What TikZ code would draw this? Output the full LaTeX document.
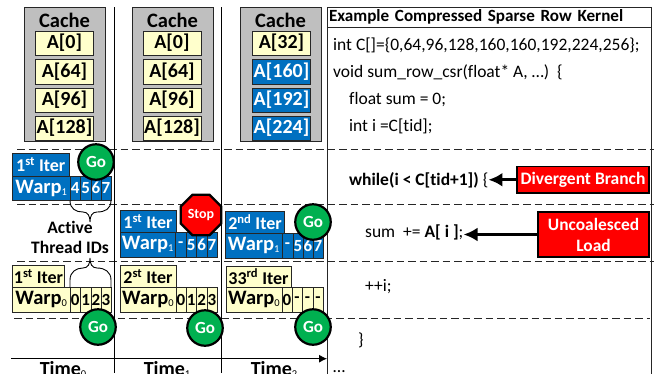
\documentclass[tikz,border=0pt]{standalone}
\usepackage{fontspec}
\setmainfont[Ligatures=NoCommon]{Carlito}
\usetikzlibrary{shapes.geometric,arrows.meta,calc}
\definecolor{cyel}{HTML}{FFFFCC}
\definecolor{cblu}{HTML}{0070C0}
\definecolor{cgra}{HTML}{BFBFBF}
\definecolor{cgre}{HTML}{00B050}
\definecolor{cred}{HTML}{FF0000}
\definecolor{cdrk}{HTML}{262626}
\tikzset{
  boxbase/.style={draw=cdrk,line width=1pt,inner sep=0pt,outer sep=0pt,anchor=north west,font=\bfseries},
  cachebox/.style={boxbase,fill=cgra,text=black},
  yel/.style={boxbase,fill=cyel,text=black},
  blu/.style={boxbase,fill=cblu,text=white},
  redbox/.style={boxbase,fill=cred,text=white,draw=black,line width=1.2pt,align=center},
  gosign/.style={circle,draw=black,line width=2.2pt,fill=cgre,text=white,minimum size=35.5pt,inner sep=0pt,font=\fontsize{17}{17}\selectfont\bfseries},
  stopsign/.style={regular polygon,regular polygon sides=8,draw=black,line width=2.2pt,fill=cred,text=white,minimum size=44pt,inner sep=0pt,font=\fontsize{14}{14}\selectfont\bfseries},
  rowdash/.style={draw=cdrk,line width=0.9pt,dash pattern=on 7.5pt off 4pt},
  vline/.style={draw=black,line width=0.9pt},
  brc/.style={draw=black,line width=0.9pt},
  codeline/.style={inner sep=0pt,anchor=base west,font=\fontsize{17.5}{17}\selectfont},
  boldlabel/.style={inner sep=0pt,font=\fontsize{17.5}{18}\selectfont\bfseries,align=center},
  callarrow/.style={-{Latex[length=14pt,width=14pt]},line width=3pt,black}
}
\newcommand{\bx}[7]{\node[#2,minimum width=#5pt-#3pt,minimum height=#6pt-#4pt] (#1) at (#3,#4) {#7};}
\newcommand{\fA}{\fontsize{20}{20}\selectfont}
\newcommand{\fI}{\fontsize{18}{18}\selectfont}
\newcommand{\fW}{\fontsize{20.5}{20}\selectfont}
\newcommand{\fD}{\fontsize{17}{17}\selectfont}
\newcommand{\wsub}[1]{\raisebox{-2pt}{\fontsize{10.5}{10}\selectfont\mdseries #1}}
\begin{document}
\begin{tikzpicture}[x=1pt,y=-1pt]
\useasboundingbox (0,0) rectangle (654,373);
% code frame
\node[draw=cdrk,line width=0.9pt,inner sep=0pt,outer sep=0pt,anchor=north west,minimum width=324pt,minimum height=20pt,text width=322pt,font=\fontsize{17.1}{17}\selectfont\bfseries,align=left] (hdr) at (327,7) {\hspace{1pt}Example Compressed Sparse Row Kernel};
\coordinate (framebl) at (327,380);
\coordinate (framebr) at (651,380);
\draw[draw=cdrk,line width=0.9pt] (hdr.south west) -- (framebl) (hdr.south east) -- (framebr);
% dashed rows
\coordinate (d1a) at (17,149); \coordinate (d1b) at (654,149);
\coordinate (d2a) at (17,204); \coordinate (d2b) at (654,204);
\coordinate (d3a) at (17,261); \coordinate (d3b) at (654,261);
\coordinate (d4a) at (14,318); \coordinate (d4b) at (650,318);
\draw[rowdash] (d1a) -- (d1b);
\draw[rowdash] (d2a) -- (d2b);
\draw[rowdash] (d3a) -- (d3b);
\draw[rowdash] (d4a) -- (d4b);
% verticals
\coordinate (v1a) at (114,7); \coordinate (v1b) at (114,373);
\coordinate (v2a) at (221.5,7); \coordinate (v2b) at (221.5,373);
\draw[vline] (v1a) -- (v1b);
\draw[vline] (v2a) -- (v2b);
% axis
\coordinate (ax0) at (11,358.7); \coordinate (ax1) at (327,358.7);
\draw[line width=0.9pt,-{Latex[length=8pt,width=8pt]}] (ax0) -- (ax1);
% caches
\foreach \n/\x in {a/24,b/132,c/240}{
  \node[cachebox,minimum width=81pt,minimum height=134pt] (cache\n) at (\x,7) {};
  \node[font=\fontsize{20.5}{20}\selectfont\bfseries,inner sep=0pt,anchor=base] (cachet\n) at (\x+40.5,27) {Cache};
}
\bx{a1}{yel}{35.5}{31}{93.5}{55}{\fA A[0]}
\bx{a2}{yel}{35.5}{59.5}{93.5}{84}{\fA A[64]}
\bx{a3}{yel}{35.5}{88}{93.5}{112}{\fA A[96]}
\bx{a4}{yel}{35.5}{116}{93.5}{140}{\fA A[128]}
\bx{b1}{yel}{143}{31}{201}{55}{\fA A[0]}
\bx{b2}{yel}{143}{59.5}{201}{84}{\fA A[64]}
\bx{b3}{yel}{143}{88}{201}{112}{\fA A[96]}
\bx{b4}{yel}{143}{116}{201}{140}{\fA A[128]}
\bx{c1}{yel}{252.5}{31}{310.5}{55}{\fA A[32]}
\bx{c2}{blu}{252.5}{59.5}{310.5}{84}{\fA A[160]}
\bx{c3}{blu}{252.5}{88}{310.5}{112}{\fA A[192]}
\bx{c4}{blu}{252.5}{116}{310.5}{140}{\fA A[224]}
% time 0 blue
\bx{t0bi}{blu}{12.5}{153}{69}{176}{\fI 1\textsuperscript{st} Iter}
\bx{t0bw}{blu}{12.5}{176}{70}{200.5}{\fW Warp\wsub{1}}
\bx{t0b0}{blu}{70}{176}{80.5}{200.5}{\fD 4}
\bx{t0b1}{blu}{80.5}{176}{91}{200.5}{\fD 5}
\bx{t0b2}{blu}{91}{176}{101}{200.5}{\fD 6}
\bx{t0b3}{blu}{101}{176}{111}{200.5}{\fD 7}
% time 0 yellow
\bx{t0yi}{yel}{12.5}{265}{64.5}{287.5}{\fI 1\textsuperscript{st} Iter}
\bx{t0yw}{yel}{12.5}{287.5}{70}{312}{\fW Warp\wsub{0}}
\bx{t0y0}{yel}{70}{287.5}{80.5}{312}{\fD 0}
\bx{t0y1}{yel}{80.5}{287.5}{91}{312}{\fD 1}
\bx{t0y2}{yel}{91}{287.5}{101}{312}{\fD 2}
\bx{t0y3}{yel}{101}{287.5}{111}{312}{\fD 3}
% time 1 blue
\bx{t1bi}{blu}{120}{210}{176}{232.5}{\fI 1\textsuperscript{st} Iter}
\bx{t1bw}{blu}{120}{232.5}{175.5}{257}{\fW Warp\wsub{1}}
\bx{t1b0}{blu}{175.5}{232.5}{186}{257}{\fD -}
\bx{t1b1}{blu}{186}{232.5}{196.5}{257}{\fD 5}
\bx{t1b2}{blu}{196.5}{232.5}{207}{257}{\fD 6}
\bx{t1b3}{blu}{207}{232.5}{217}{257}{\fD 7}
% time 1 yellow
\bx{t1yi}{yel}{120}{265}{176}{287.5}{\fI 2\textsuperscript{st} Iter}
\bx{t1yw}{yel}{120}{287.5}{176}{312}{\fW Warp\wsub{0}}
\bx{t1y0}{yel}{176}{287.5}{186}{312}{\fD 0}
\bx{t1y1}{yel}{186}{287.5}{196.5}{312}{\fD 1}
\bx{t1y2}{yel}{196.5}{287.5}{207}{312}{\fD 2}
\bx{t1y3}{yel}{207}{287.5}{217}{312}{\fD 3}
% time 2 blue
\bx{t2bi}{blu}{225.5}{211}{284.5}{233.5}{\fI 2\textsuperscript{nd} Iter}
\bx{t2bw}{blu}{225.5}{233.5}{282}{258}{\fW Warp\wsub{1}}
\bx{t2b0}{blu}{282}{233.5}{293}{258}{\fD -}
\bx{t2b1}{blu}{293}{233.5}{303}{258}{\fD 5}
\bx{t2b2}{blu}{303}{233.5}{313}{258}{\fD 6}
\bx{t2b3}{blu}{313}{233.5}{323}{258}{\fD 7}
% time 2 yellow
\bx{t2yi}{yel}{226}{266}{291}{287.5}{\fI 33\textsuperscript{rd} Iter}
\bx{t2yw}{yel}{226}{287.5}{282}{312}{\fW Warp\wsub{0}}
\bx{t2y0}{yel}{282}{287.5}{292}{312}{\fD 0}
\bx{t2y1}{yel}{292}{287.5}{302}{312}{\fD -}
\bx{t2y2}{yel}{302}{287.5}{313}{312}{\fD -}
\bx{t2y3}{yel}{313}{287.5}{323}{312}{\fD -}
% braces
\node[boldlabel] (lab1) at (70,227) {Active};
\node[boldlabel] (lab2) at (70,247) {Thread IDs};
\draw[brc] (t0b0.south west) .. controls (70,209) and (76,212) .. (83,212) .. controls (88,212) and (90,216) .. (90,222) .. controls (90,216) and (92,212) .. (97,212) .. controls (105,212) and (111,209) .. (t0b3.south east);
\draw[brc] (t0y0.north west) -- (70,280) .. controls (70,272) and (76,268) .. (83,268) .. controls (88,268) and (90,264) .. (90,258) .. controls (90,264) and (92,268) .. (97,268) .. controls (105,268) and (111,272) .. (111,280) -- (t0y3.north east);
% go / stop
\node[gosign] (go0) at (96,162) {Go};
\node[gosign] (go1) at (98,327) {Go};
\node[gosign] (go2) at (205,328) {Go};
\node[gosign] (go3) at (313,222) {Go};
\node[gosign] (go4) at (313,327) {Go};
\node[stopsign] (stop) at (201,215) {Stop};
% time labels
\node[font=\fA\bfseries,inner sep=0pt,anchor=base] (tm0) at (63,375.5) {Time\wsub{0}};
\node[font=\fA\bfseries,inner sep=0pt,anchor=base] (tm1) at (167,375.5) {Time\wsub{1}};
\node[font=\fA\bfseries,inner sep=0pt,anchor=base] (tm2) at (274,375.5) {Time\wsub{2}};
% code
\node[codeline] (l1) at (333,50) {int C[]=\{0,64,96,128,160,160,192,224,256\};};
\node[codeline] (l2) at (333,77) {void sum\_row\_csr(float* A, …)~ \{};
\node[codeline] (l3) at (349,104) {float sum = 0;};
\node[codeline] (l4) at (349,131) {int i =C[tid];};
\node[codeline] (l5) at (349,185) {\textbf{while(i < C[tid+1])} \{};
\node[codeline] (l6) at (365,237) {sum~ += \textbf{A[ i ]};};
\node[codeline] (l7) at (365,291) {++i;};
\node[codeline] (l8) at (358,345) {\}};
\node[codeline] (l9) at (333,372) {…};
% callouts
\node[redbox,font=\fontsize{17.5}{19}\selectfont\bfseries,minimum width=132pt,minimum height=26.5pt] (div) at (517,166.5) {Divergent Branch};
\node[redbox,font=\fontsize{17.4}{21}\selectfont\bfseries,minimum width=111pt,minimum height=45pt] (unc) at (538,212) {Uncoalesced\\Load};
\draw[callarrow] (div.west) -- (l5.east |- div.west);
\draw[callarrow] (unc.west) -- (l6.east |- unc.west);
\end{tikzpicture}
\end{document}
